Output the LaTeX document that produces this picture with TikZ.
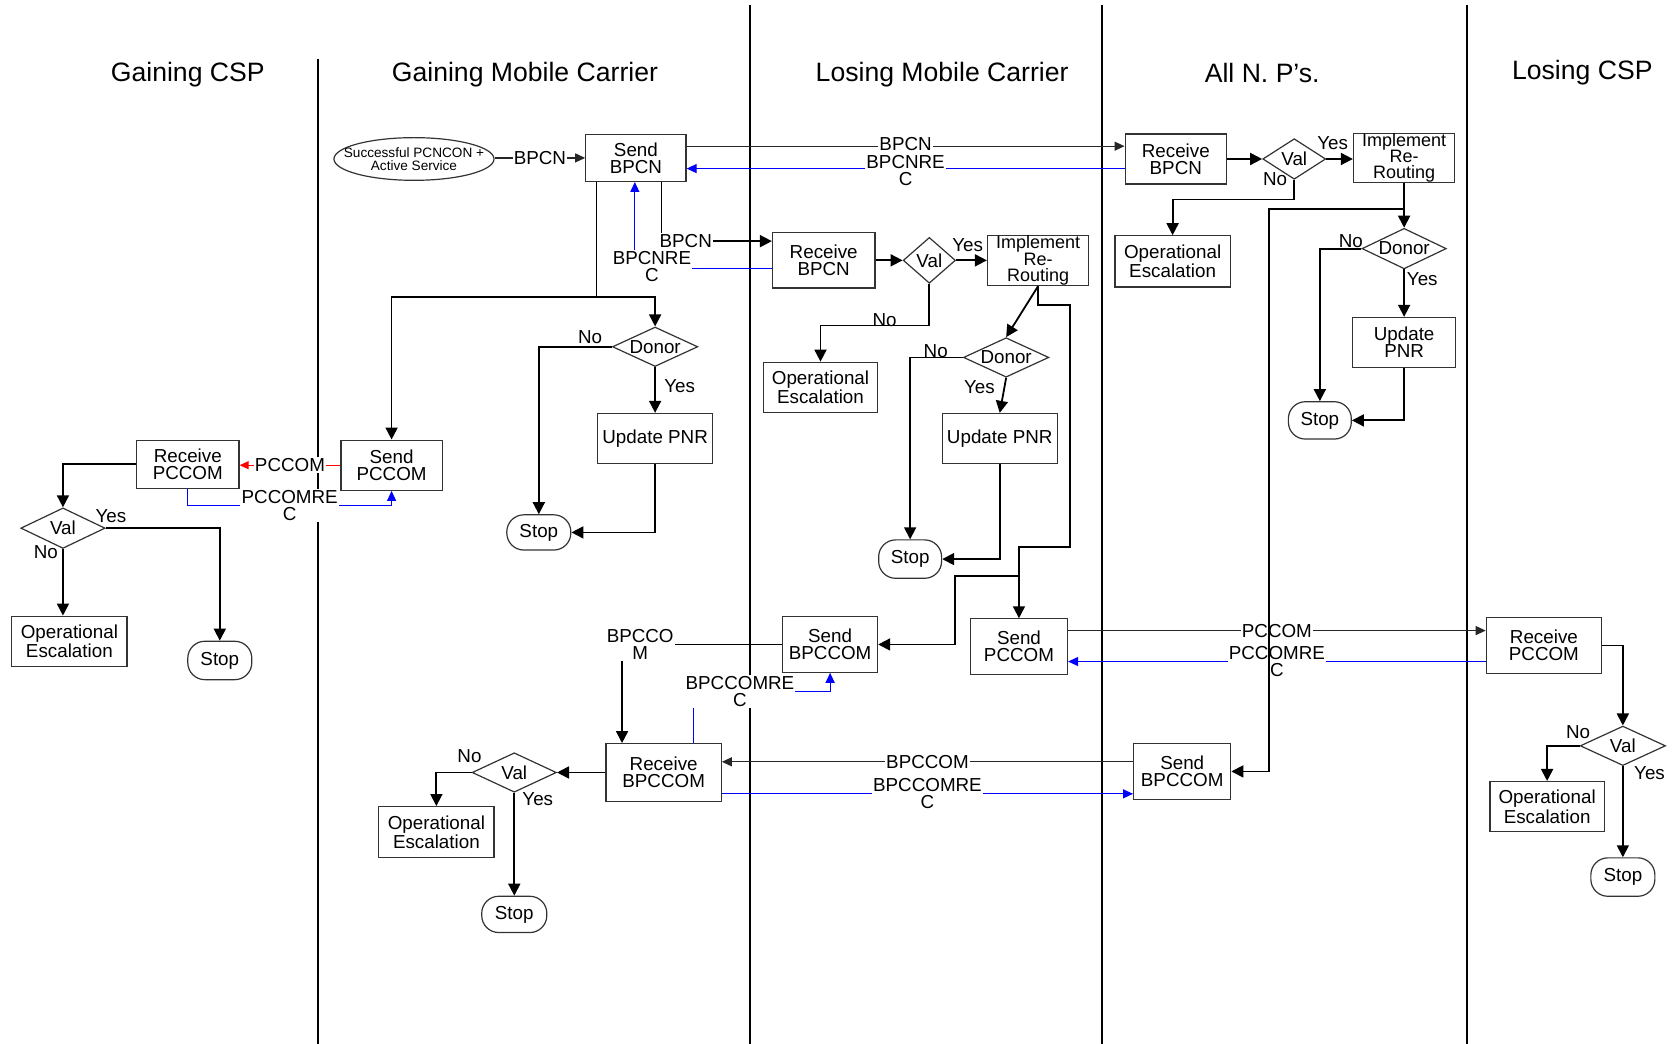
\documentclass[tikz,border=0pt]{standalone}
\usepackage{fontspec}
\setmainfont{Liberation Sans}
\usetikzlibrary{arrows.meta,shapes.geometric,positioning}

% one pixel of the drawing
\newcommand{\dpx}{0.5335pt}
\newcommand{\bxfont}{\fontsize{9.4}{8.6}\selectfont}
\newcommand{\hdfont}{\fontsize{13.3}{15}\selectfont}

\tikzset{
  box/.style 2 args={draw=black!80, line width=0.6pt, fill=white, align=center,
    inner sep=0pt, font=\bxfont, minimum width=#1*\dpx, minimum height=#2*\dpx},
  dec/.style 2 args={diamond, draw=black!80, line width=0.6pt, fill=white,
    inner sep=0pt, shape aspect=2.1, font=\bxfont,
    minimum width=#1*\dpx, minimum height=#2*\dpx},
  term/.style 2 args={rectangle, rounded corners=8.5pt, draw=black!80,
    line width=0.6pt, fill=white, inner sep=0pt, font=\bxfont,
    minimum width=#1*\dpx, minimum height=#2*\dpx},
  flow/.style={-{Triangle[length=6pt,width=6pt]}, line width=0.9pt},
  msg/.style={-{Triangle[length=5pt,width=4.5pt]}, line width=0.6pt, black!85},
  rec/.style={-{Triangle[length=5pt,width=4.5pt]}, line width=0.6pt, blue},
  pcc/.style={-{Triangle[length=4.5pt,width=4pt]}, line width=0.5pt, red},
  lbl/.style={fill=white, inner sep=0.6pt, align=center, font=\bxfont, text=black},
  yn/.style={inner sep=0pt, font=\bxfont, text=black},
  lane/.style={line width=0.9pt},
  head/.style={font=\hdfont}
}

\begin{document}
\begin{tikzpicture}[x=\dpx, y=-\dpx]
  \useasboundingbox (0,0) rectangle (1568,978);

  % Bahnen
  \foreach \lx/\ly in {298/55, 703/5, 1033/5, 1375/5}
    \draw[lane] (\lx,\ly) -- (\lx,978);

  % Ueberschriften
  \node[head] (hgcsp) at (176,70) {Gaining CSP};
  \node[head] (hgmc) at (492,70) {Gaining Mobile Carrier};
  \node[head] (hlmc) at (883,70) {Losing Mobile Carrier};
  \node[head] (hnps) at (1183,68) {All N. P's.};
  \node[head] (hlcsp) at (1483,68) {Losing CSP};

  % Gaining CSP
  \node[box={96}{45}] (rpccom0) at (176,435) {Receive\\PCCOM};
  \node[dec={79}{38}] (val0) at (59,495) {Val};
  \node[box={108}{47}] (esc0) at (65,601) {Operational\\Escalation};
  \node[term={60}{36}] (stop0) at (206,619) {Stop};

  % Gaining Mobile Carrier
  \node[ellipse, draw=black!80, line width=0.6pt, inner xsep=-8pt, inner ysep=0pt,
    minimum width=150*\dpx, minimum height=40*\dpx, align=center,
    font=\fontsize{6.8}{6.6}\selectfont] (start) at (388,149) {Successful PCNCON +\\Active Service};
  \node[box={94}{44}] (sbpcn) at (596,148) {Send\\BPCN};
  \node[dec={80}{37}] (donor1) at (614,325) {Donor};
  \node[box={108}{47}] (upd1) at (614,411) {Update PNR};
  \node[term={60}{33}] (stop1) at (505,499) {Stop};
  \node[box={95}{47}] (spccom1) at (367,436) {Send\\PCCOM};
  \node[box={108}{54}] (rbpccom1) at (622,724) {Receive\\BPCCOM};
  \node[dec={79}{37}] (val1) at (482,724) {Val};
  \node[box={108}{48}] (esc1) at (409,780) {Operational\\Escalation};
  \node[term={61}{34}] (stop1b) at (482,857) {Stop};

  % Losing Mobile Carrier
  \node[box={96}{52}] (rbpcn2) at (772,244) {Receive\\BPCN};
  \node[dec={49}{43}, shape aspect=1.15] (val2) at (871,244) {Val};
  \node[box={95}{47}, font=\fontsize{9}{8.2}\selectfont] (impl2) at (973,244) {Implement\\Re-\\Routing};
  \node[box={107}{47}] (esc2) at (769,363) {Operational\\Escalation};
  \node[dec={80}{37}] (donor2) at (943,335) {Donor};
  \node[box={108}{47}] (upd2) at (937,411) {Update PNR};
  \node[term={59}{36}] (stop2) at (853,524) {Stop};
  \node[box={91}{52}] (spccom2) at (955,606) {Send\\PCCOM};
  \node[box={89}{52}] (sbpccom2) at (778,604) {Send\\BPCCOM};

  % All N. P's
  \node[box={95}{47}] (rbpcn3) at (1102,149) {Receive\\BPCN};
  \node[dec={59}{38}, shape aspect=1.55] (val3) at (1213,149) {Val};
  \node[box={95}{45}, font=\fontsize{9}{8.2}\selectfont] (impl3) at (1316,148) {Implement\\Re-\\Routing};
  \node[box={108}{48}] (esc3) at (1099,245) {Operational\\Escalation};
  \node[dec={79}{38}] (donor3) at (1316,233) {Donor};
  \node[box={97}{47}] (upd3) at (1316,321) {Update\\PNR};
  \node[term={59}{35}] (stop3) at (1237,394) {Stop};
  \node[box={91}{52}] (sbpccom3) at (1108,723) {Send\\BPCCOM};

  % Losing CSP
  \node[box={108}{53}] (rpccom4) at (1447,605) {Receive\\PCCOM};
  \node[dec={80}{37}] (val4) at (1521,699) {Val};
  \node[box={107}{47}] (esc4) at (1450,756) {Operational\\Escalation};
  \node[term={60}{36}] (stop4) at (1521,822) {Stop};

  % Gaining Mobile Carrier: Start und Verteilung
  \draw[msg] (start.east |- sbpcn.west) -- node[lbl]{BPCN} (sbpcn.west);
  \coordinate (j1) at (559,278);
  \draw[flow] (sbpcn.south -| j1) -- (j1) -| (spccom1.north);
  \draw[flow] (j1) -| (donor1.north);
  \draw[flow] (donor1.west) -| (stop1.north) node[yn] at (553,316) {No};
  \draw[flow] (donor1.south) -- (upd1.north) node[yn] at (637,362) {Yes};
  \draw[flow] (upd1.south) |- (stop1.east);

  % BPCN an Losing Mobile Carrier und zurueck
  \draw[flow] (sbpcn.south -| 620,0) |- node[lbl, pos=0.5, anchor=west, xshift=-2pt]{BPCN} (rbpcn2.west |- 0,226);
  \draw[rec] (rbpcn2.west |- 0,252) -| node[lbl, pos=0.5, xshift=16*\dpx, yshift=1pt]{BPCNRE\\C} (sbpcn.south -| 595,0);

  % Losing Mobile Carrier
  \draw[flow] (rbpcn2.east) -- (val2.west);
  \draw[flow] (val2.east) -- (impl2.west) node[yn] at (907,230) {Yes};
  \draw[flow] (val2.south) -- (val2.south |- 0,305) -| (esc2.north) node[yn] at (829,300) {No};
  \draw[flow] (impl2.south) -- (donor2.north);
  \draw[flow] (donor2.west) -| (stop2.north) node[yn] at (877,329) {No};
  \draw[flow] (donor2.south) -- (upd2.north) node[yn] at (918,363) {Yes};
  \draw[flow] (upd2.south) |- (stop2.east);
  \coordinate (j2) at (955,540);
  \draw[flow] (impl2.south) -- (impl2.south |- 0,286) -| (1003,513) -| (spccom2.north);
  \draw[flow] (j2) -- (895,540) |- (sbpccom2.east);

  % BPCCOM an Gaining Mobile Carrier
  \draw[flow] (sbpccom2.west) -| node[lbl, pos=0.5, xshift=17*\dpx]{BPCCO\\M} (rbpccom1.north -| 583,0);
  \draw[rec] (rbpccom1.north -| 650,0) -- (650,648) -| node[lbl, pos=0.17]{BPCCOMRE\\C} (sbpccom2.south);
  \draw[flow] (rbpccom1.west) -- (val1.east);
  \draw[flow] (val1.west) -| (esc1.north) node[yn] at (440,709) {No};
  \draw[flow] (val1.south) -- (stop1b.north) node[yn] at (504,749) {Yes};

  % Gaining CSP
  \draw[pcc] (spccom1.west) -- node[lbl]{PCCOM} (spccom1.west -| rpccom0.east);
  \draw[rec] (rpccom0.south) -- (rpccom0.south |- 0,474) -| node[lbl, pos=0.25]{PCCOMRE\\C} (spccom1.south);
  \draw[flow] (rpccom0.west) -| (val0.north);
  \draw[flow] (val0.east) -| (stop0.north) node[yn] at (104,484) {Yes};
  \draw[flow] (val0.south) -- (val0.south |- esc0.north) node[yn] at (43,517) {No};

  % All N. P's
  \draw[msg] (sbpcn.east |- 0,137) -- node[lbl, yshift=1.2pt]{BPCN} (rbpcn3.west |- 0,137);
  \draw[rec] (rbpcn3.west |- 0,158) -- node[lbl, yshift=-1pt]{BPCNRE\\C} (sbpcn.east |- 0,158);
  \draw[flow] (rbpcn3.east) -- (val3.west);
  \draw[flow] (val3.east) -- (val3.east -| impl3.west) node[yn] at (1249,134) {Yes};
  \draw[flow] (val3.south) -- (val3.south |- 0,187) -| (esc3.north) node[yn] at (1195,168) {No};
  \draw[flow] (impl3.south) -- (donor3.north);
  \draw[flow] (donor3.west) -| (stop3.north) node[yn] at (1266,226) {No};
  \draw[flow] (donor3.south) -- (upd3.north) node[yn] at (1333,262) {Yes};
  \draw[flow] (upd3.south) |- (stop3.east);

  % Nachrichten zwischen den Bahnen
  \draw[msg] (spccom2.east |- 0,591) -- node[lbl]{PCCOM} (rpccom4.west |- 0,591);
  \draw[rec] (rpccom4.west |- 0,620) -- node[lbl]{PCCOMRE\\C} (spccom2.east |- 0,620);
  \draw[msg] (sbpccom3.west |- 0,714) -- node[lbl]{BPCCOM} (rbpccom1.east |- 0,714);
  \draw[rec] (rbpccom1.east |- 0,744) -- node[lbl]{BPCCOMRE\\C} (sbpccom3.west |- 0,744);

  % Zweig zu Send BPCCOM
  \coordinate (j3) at (1316,196);
  \draw[flow] (j3) -- (1189,196) |- (sbpccom3.east);

  % Losing CSP
  \draw[flow] (rpccom4.east) -| (val4.north);
  \draw[flow] (val4.west) -| (esc4.north) node[yn] at (1479,686) {No};
  \draw[flow] (val4.south) -- (stop4.north) node[yn] at (1546,725) {Yes};
\end{tikzpicture}
\end{document}
